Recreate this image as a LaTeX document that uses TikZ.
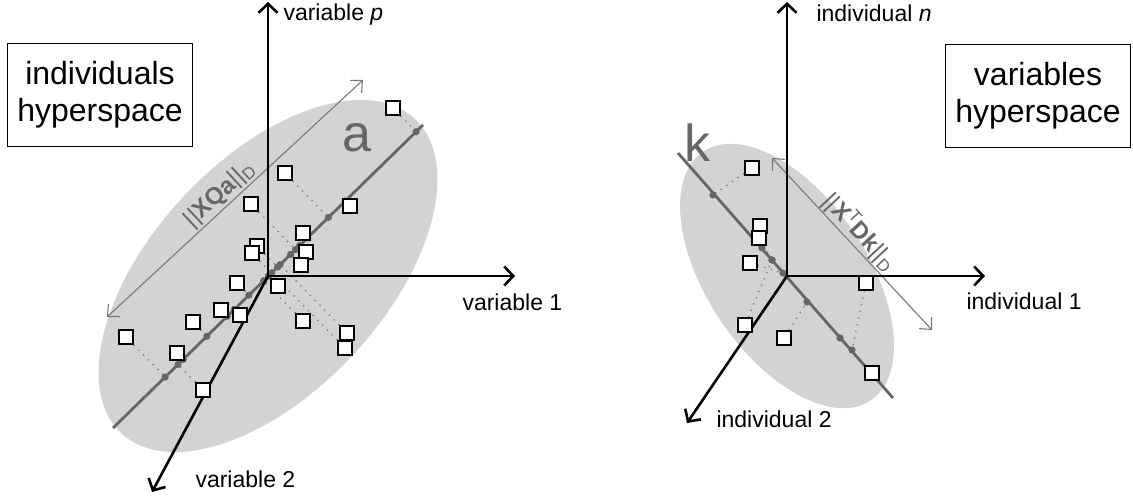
\documentclass[tikz,border=0pt]{standalone}
\usepackage{fontspec}
\setmainfont{Liberation Sans}
\usetikzlibrary{arrows.meta,calc}
\pgfdeclarelayer{bg}
\pgfsetlayers{bg,main}

\definecolor{cloud}{HTML}{D3D3D3}
\definecolor{pcgray}{HTML}{666666}
\definecolor{thingray}{HTML}{7A7A7A}

\tikzset{
  axis/.style={line width=2.6pt,-{Straight Barb[length=9pt,width=19pt]}},
  obs/.style={draw,line width=1.6pt,fill=white,minimum size=14pt,inner sep=0pt},
  pcline/.style={pcgray,line width=2.8pt},
  proj/.style={thingray,line width=1.3pt,dash pattern=on 1.3pt off 5.5pt},
  normarrow/.style={thingray,line width=1.1pt,{Straight Barb[length=9pt,width=17pt]}-{Straight Barb[length=9pt,width=17pt]}},
  spacebox/.style={draw,line width=1.2pt,align=center,inner sep=0pt,minimum width=185pt,minimum height=103pt,font=\fontsize{32}{37}\selectfont},
  axlabel/.style={anchor=base west,font=\fontsize{23}{27}\selectfont},
  pcname/.style={pcgray,font=\fontsize{52}{60}\selectfont},
  normlabel/.style={pcgray,anchor=base,inner sep=0pt,font=\fontsize{24}{28}\selectfont},
}

\begin{document}
\begin{tikzpicture}[x=1pt,y=-1pt]
\useasboundingbox (0,0) rectangle (1133,500);

%% individuals hyperspace
\node[spacebox] (indbox) at (100,95) {individuals\\hyperspace};
\coordinate (O1) at (268,276);
\coordinate (varp) at (268,2);
\coordinate (var1) at (515,276);
\coordinate (var2) at (152,492);
\coordinate (a1) at (113,428);
\coordinate (a2) at (423,125);
\coordinate (n1) at (107,317);
\coordinate (n2) at (363,80);
\foreach \i/\x/\y in {1/393/108,2/285/173,3/350/206,4/251/204,5/303/233,
    6/257/246,7/252/253,8/306/252,9/301/265,10/278/286,11/237/283,12/221/310,
    13/240/315,14/193/322,15/303/321,16/347/333,17/345/348,18/126/337,
    19/177/353,20/203/390}
  \node[obs] (s\i) at (\x,\y) {};

\begin{pgfonlayer}{bg}
\fill[cloud,rotate around={47:(O1)}] (O1) ellipse [x radius=215,y radius=116];
\draw[normarrow] (n1) -- (n2);
\foreach \i in {1,...,20} {
  \coordinate (p\i) at ($(a1)!(s\i)!(a2)$);
  \draw[proj] (s\i) -- (p\i);
}
\draw[pcline] (a1) -- (a2);
\foreach \i in {1,...,20}
  \fill[pcgray] (p\i) circle (3.6);
\draw[axis] (O1) -- (varp);
\draw[axis] (O1) -- (var1);
\draw[axis] (O1) -- (var2);
\end{pgfonlayer}

\node[axlabel] (labp) at (280,21) {variable \textit{p}};
\node[axlabel] (lab1) at (459,310) {variable 1};
\node[axlabel] (lab2) at (192,487) {variable 2};
\node[pcname] (aname) at (357,138) {a};
\node[normlabel,rotate=43] (anorm) at (224,199) {||\textbf{XQa}||\textsubscript{D}};

%% variables hyperspace
\node[spacebox] (varbox) at (1038,96) {variables\\hyperspace};
\coordinate (O2) at (787,276);
\coordinate (indn) at (787,2);
\coordinate (ind1) at (985,276);
\coordinate (ind2) at (687,423);
\coordinate (k1) at (678,153);
\coordinate (k2) at (893,398);
\coordinate (m1) at (772,158);
\coordinate (m2) at (932,330);
\foreach \i/\x/\y/\u/\v in {1/752/168/713/195,2/760/226/762/248,3/759/238/772/260,
    4/750/263/783/273,5/866/283/852/350,6/745/325/772/260,7/784/338/807/302,
    8/872/373/840/338} {
  \node[obs] (r\i) at (\x,\y) {};
  \coordinate (q\i) at (\u,\v);
}

\begin{pgfonlayer}{bg}
\fill[cloud,rotate around={-56:(O2)}] (O2) ellipse [x radius=150,y radius=80];
\draw[normarrow] (m1) -- (m2);
\foreach \i in {1,...,8}
  \draw[proj] (r\i) -- (q\i);
\draw[pcline] (k1) -- (k2);
\foreach \i in {1,...,8}
  \fill[pcgray] (q\i) circle (3.6);
\draw[axis] (O2) -- (indn);
\draw[axis] (O2) -- (ind1);
\draw[axis] (O2) -- (ind2);
\end{pgfonlayer}

\node[axlabel] (labn) at (813,22) {individual \textit{n}};
\node[axlabel] (labi1) at (963,309) {individual 1};
\node[axlabel] (labi2) at (713,427) {individual 2};
\node[pcname] (kname) at (697,143) {k};
\node[normlabel,rotate=-47] (knorm) at (854,237) {||\textbf{X}\textsuperscript{T}\textbf{Dk}||\textsubscript{D}};
\end{tikzpicture}
\end{document}
